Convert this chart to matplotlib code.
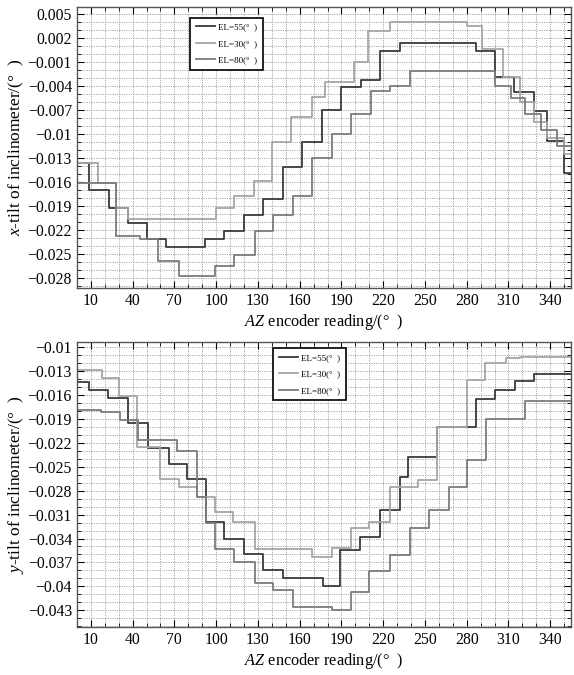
import numpy as np
import matplotlib
matplotlib.use("Agg")
import matplotlib.pyplot as plt
from matplotlib.ticker import MultipleLocator, FixedLocator

plt.rcParams["font.family"] = ["Liberation Serif", "DejaVu Serif"]
plt.rcParams["mathtext.fontset"] = "custom"
plt.rcParams["mathtext.rm"] = "Liberation Serif"
plt.rcParams["mathtext.it"] = "Liberation Serif:italic"
plt.rcParams["axes.unicode_minus"] = True

# ---- data: step start (AZ, deg) and tilt value (deg) ----
# x-tilt
az_55_x = [0, 9, 23, 37, 50, 64, 92, 106, 120, 134, 148, 162, 176, 190, 204, 218, 232, 287, 300, 314, 328, 338, 350]
tilt_55_x = [-0.0137, -0.0170, -0.0193, -0.0211, -0.0232, -0.0241, -0.0232, -0.0222, -0.0202, -0.0182, -0.0141,
             -0.0110, -0.0070, -0.0042, -0.0033, 0.0004, 0.0013, 0.0004, -0.0029, -0.0048, -0.0071, -0.0109, -0.0149]
az_30_x = [0, 15, 28, 37, 100, 113, 127, 140, 154, 169, 178, 199, 209, 225, 280, 291, 306, 318, 328, 338, 350]
tilt_30_x = [-0.0137, -0.0162, -0.0193, -0.0207, -0.0193, -0.0178, -0.0159, -0.0110, -0.0079, -0.0054, -0.0035,
             -0.0010, 0.0029, 0.0040, 0.0035, 0.0006, -0.0029, -0.0060, -0.0085, -0.0105, -0.0125]
az_80_x = [0, 28, 45, 58, 73, 99, 113, 128, 141, 155, 169, 183, 197, 211, 225, 239, 300, 312, 322, 333, 345]
tilt_80_x = [-0.0162, -0.0228, -0.0232, -0.0259, -0.0278, -0.0265, -0.0251, -0.0222, -0.0202, -0.0178, -0.0130,
             -0.0100, -0.0075, -0.0046, -0.0040, -0.0022, -0.0040, -0.0055, -0.0075, -0.0095, -0.0115]

# y-tilt
az_55_y = [0, 9, 22, 37, 51, 66, 79, 93, 106, 120, 134, 148, 177, 189, 203, 218, 232, 238, 259, 287, 300, 315, 328]
tilt_55_y = [-0.0144, -0.0154, -0.0164, -0.0195, -0.0227, -0.0246, -0.0265, -0.0319, -0.0340, -0.0359, -0.0380,
             -0.0390, -0.0399, -0.0354, -0.0338, -0.0304, -0.0263, -0.0238, -0.0200, -0.0165, -0.0154, -0.0143, -0.0134]
az_30_y = [0, 18, 30, 43, 60, 73, 86, 99, 112, 128, 169, 183, 197, 210, 225, 245, 259, 280, 293, 308, 318]
tilt_30_y = [-0.0129, -0.0139, -0.0162, -0.0225, -0.0265, -0.0275, -0.0288, -0.0307, -0.0319, -0.0353, -0.0363,
             -0.0352, -0.0327, -0.0319, -0.0275, -0.0267, -0.0200, -0.0141, -0.0120, -0.0114, -0.0112]
az_80_y = [0, 17, 31, 44, 58, 72, 86, 93, 99, 113, 128, 141, 155, 183, 197, 210, 225, 239, 253, 267, 280, 294, 322]
tilt_80_y = [-0.0179, -0.0181, -0.0192, -0.0217, -0.0217, -0.0230, -0.0288, -0.0320, -0.0353, -0.0369, -0.0396,
             -0.0405, -0.0426, -0.0430, -0.0407, -0.0381, -0.0361, -0.0327, -0.0304, -0.0275, -0.0242, -0.0190, -0.0168]

xticks = [10, 40, 70, 100, 130, 160, 190, 220, 250, 280, 310, 340]
yticks_x = [0.005, 0.002, -0.001, -0.004, -0.007, -0.01, -0.013, -0.016, -0.019, -0.022, -0.025, -0.028]
yticks_y = [-0.01, -0.013, -0.016, -0.019, -0.022, -0.025, -0.028, -0.031, -0.034, -0.037, -0.04, -0.043]
labels = ["EL=55(°  )", "EL=30(°  )", "EL=80(°  )"]
colors = ["#3a3a3a", "#a6a6a6", "#7c7c7c"]

fig = plt.figure(figsize=(5.74, 6.75), dpi=100)
ax1 = fig.add_axes([0.134, 0.573, 0.861, 0.416])
ax2 = fig.add_axes([0.134, 0.071, 0.861, 0.422])


def fmt(v):
    s = f"{v:.3f}".rstrip("0")
    return s.replace("-", "\u2212")


def draw(ax, series, yticks, ylim, ylabel, legend_anchor):
    for (az, tilt), lab, c in zip(series, labels, colors):
        xs = list(az) + [360]
        ys = list(tilt) + [tilt[-1]]
        ax.step(xs, ys, where="post", color=c, lw=1.3, label=lab)
    ax.set_xlim(0, 355)
    ax.set_ylim(*ylim)
    ax.xaxis.set_major_locator(FixedLocator(xticks))
    ax.xaxis.set_minor_locator(MultipleLocator(10))
    ax.yaxis.set_major_locator(FixedLocator(yticks))
    ax.yaxis.set_minor_locator(MultipleLocator(0.001))
    ax.set_yticklabels([fmt(v) for v in yticks])
    ax.tick_params(which="both", direction="in", top=True, right=True, labelsize=11.3)
    ax.tick_params(which="major", length=5, width=0.8)
    ax.tick_params(which="minor", length=3, width=0.6)
    ax.grid(which="both", color="#8a8a8a", lw=0.6, ls=(0, (1.2, 1.6)))
    for s in ax.spines.values():
        s.set_color("#555555")
        s.set_linewidth(1.0)
    ax.set_xlabel("$AZ$ encoder reading/(°  )", fontsize=11.7, labelpad=2)
    ax.set_ylabel(ylabel, fontsize=12.5, labelpad=1)
    leg = ax.legend(loc="upper left", bbox_to_anchor=legend_anchor, fontsize=6.5,
                    handlelength=2.2, handletextpad=0.3, borderpad=0.6, labelspacing=0.9,
                    fancybox=False, framealpha=1, edgecolor="black")
    leg.get_frame().set_linewidth(1.2)


draw(ax1, [(az_55_x, tilt_55_x), (az_30_x, tilt_30_x), (az_80_x, tilt_80_x)],
     yticks_x, (-0.0293, 0.0058), "$x$-tilt of inclinometer/(°  )", (0.22, 0.98))
draw(ax2, [(az_55_y, tilt_55_y), (az_30_y, tilt_30_y), (az_80_y, tilt_80_y)],
     yticks_y, (-0.0451, -0.0094), "$y$-tilt of inclinometer/(°  )", (0.388, 0.995))

fig.savefig("out.png", dpi=100)
